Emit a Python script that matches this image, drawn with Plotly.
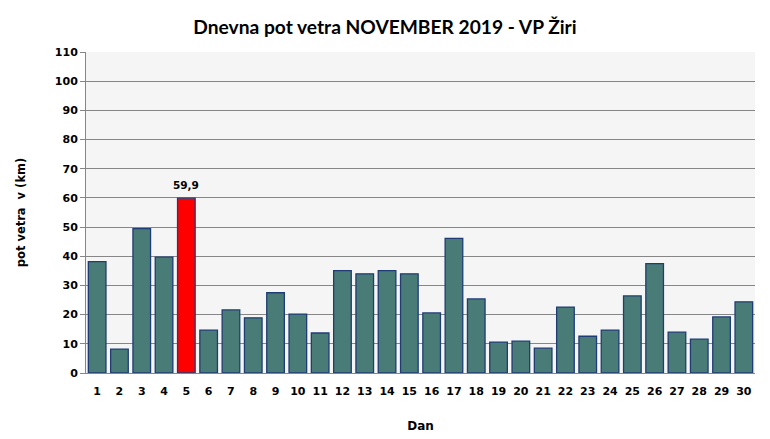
import plotly.graph_objects as go

days = list(range(1, 31))
values = [38.2, 8.2, 49.5, 39.7, 59.9, 14.7, 21.6, 18.9, 27.5, 20.2,
          13.7, 35.1, 34.0, 35.1, 34.0, 20.6, 46.1, 25.4, 10.6, 10.9,
          8.5, 22.6, 12.6, 14.7, 26.4, 37.5, 14.0, 11.6, 19.2, 24.4]
title_text = "Dnevna pot vetra NOVEMBER 2019 - VP Žiri"
x_title = "Dan"
y_title = "pot vetra  v (km)"
y_ticks = list(range(0, 111, 10))

max_v = max(values)
max_day = days[values.index(max_v)]
colors = ["#ff0000" if v == max_v else "#4a7c77" for v in values]

fig = go.Figure(go.Bar(
    x=days, y=values,
    marker=dict(color=colors, line=dict(color="#1f3c74", width=1.3)),
))

fig.add_annotation(
    x=max_day, y=max_v, text=f"<b>{max_v:.1f}</b>".replace(".", ","),
    showarrow=False, yanchor="bottom", yshift=5,
    font=dict(family="DejaVu Sans", size=10.5, color="#000000"),
)

# page body has an 8px margin, so the figure is drawn offset by (8, 8)
fig.update_layout(
    width=770, height=439,
    margin=dict(l=78, r=23, t=44, b=74),
    paper_bgcolor="#ffffff", plot_bgcolor="#f5f5f5",
    bargap=0.21,
    showlegend=False,
    title=dict(text=f"<b>{title_text}</b>", x=(385 - 8) / 770, xanchor="center",
               y=1 - 19 / 439, yanchor="middle",
               font=dict(family="Lato", size=19.2, color="#000000")),
    font=dict(family="DejaVu Sans", color="#000000"),
)
fig.update_xaxes(
    tickmode="array", tickvals=days, ticktext=[f"<b>{d}</b>" for d in days],
    range=[0.5, 30.5], showline=True, linecolor="#868686", linewidth=1,
    ticks="", tickfont=dict(size=11, family="DejaVu Sans"), ticklabelstandoff=8,
    title=dict(text=f"<b>{x_title}</b>", font=dict(size=12, family="DejaVu Sans"), standoff=24),
    showgrid=False, fixedrange=True, automargin=False,
)
fig.update_yaxes(
    range=[0, 110], tickmode="array", tickvals=y_ticks,
    ticktext=[f"<b>{t}</b>" for t in y_ticks],
    showline=True, linecolor="#868686", linewidth=1,
    ticks="outside", ticklen=5, tickcolor="#868686",
    tickfont=dict(size=11, family="DejaVu Sans"),
    gridcolor="#868686", gridwidth=1, zeroline=False,
    title=dict(text=f"<b>{y_title}</b>", font=dict(size=11.5, family="DejaVu Sans"), standoff=26),
    fixedrange=True, automargin=False,
)

fig.write_html("out.html")
